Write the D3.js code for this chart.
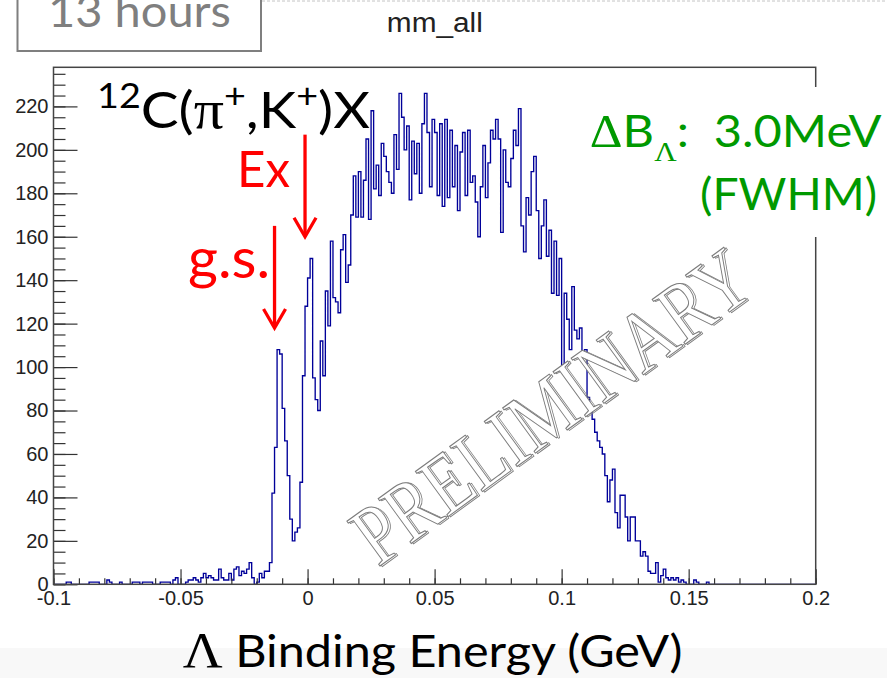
<!DOCTYPE html>
<html>
<head>
<meta charset="utf-8">
<script src="https://cdn.jsdelivr.net/npm/d3@7"></script>
<style>
  body { margin: 0; background: #fff; }
  svg { display: block; }
</style>
</head>
<body>
<svg id="chart" width="887" height="678"></svg>
<script>
// histogram: 300 bins of 1 MeV from -0.1 to 0.2 GeV
const xMin = -0.1
const binWidth = 0.001
const counts = [
  0, 0, 0, 0, 0, 1, 1, 0, 0, 0,
  0, 0, 0, 0, 1, 1, 1, 1, 0, 0,
  0, 2, 1, 0, 0, 0, 1, 0, 0, 0,
  0, 1, 1, 1, 0, 1, 1, 1, 1, 0,
  0, 0, 1, 1, 1, 1, 0, 2, 3, 0,
  0, 0, 1, 2, 2, 3, 2, 1, 3, 5,
  3, 4, 3, 2, 2, 7, 3, 2, 2, 5,
  2, 7, 8, 4, 6, 5, 7, 10, 3, 0,
  1, 5, 3, 6, 6, 10, 42, 63, 108, 106,
  81, 66, 50, 30, 20, 24, 26, 47, 96, 128,
  141, 150, 95, 85, 80, 112, 96, 135, 119, 158,
  132, 130, 125, 154, 161, 139, 147, 170, 188, 169,
  190, 169, 186, 205, 168, 218, 182, 193, 179, 203,
  197, 190, 185, 180, 207, 191, 226, 215, 200, 211,
  177, 204, 189, 203, 180, 212, 226, 208, 183, 214,
  208, 179, 212, 174, 214, 178, 209, 183, 202, 172,
  199, 208, 179, 209, 185, 188, 176, 160, 183, 202,
  178, 194, 209, 205, 214, 205, 162, 200, 185, 183,
  196, 209, 202, 219, 165, 153, 178, 170, 190, 197,
  172, 150, 165, 177, 151, 163, 134, 158, 133, 150,
  101, 134, 122, 108, 137, 117, 113, 118, 106, 108,
  86, 80, 76, 70, 66, 63, 60, 50, 38, 48,
  53, 33, 26, 41, 41, 31, 20, 31, 31, 20,
  20, 13, 15, 13, 6, 5, 5, 10, 1, 4,
  7, 3, 2, 3, 2, 3, 1, 2, 1, 0,
  0, 0, 2, 1, 0, 0, 0, 1, 0, 0,
  0, 0, 0, 0, 0, 0, 0, 0, 0, 0,
  0, 0, 0, 0, 0, 0, 0, 0, 0, 0,
  0, 0, 0, 0, 0, 0, 0, 0, 0, 0,
  0, 0, 0, 0, 0, 0, 0, 0, 0, 0
]

const xMajor = [-0.1, -0.05, 0, 0.05, 0.1, 0.15, 0.2]
const xLabels = ['-0.1', '-0.05', '0', '0.05', '0.1', '0.15', '0.2']
const yMajor = [0, 20, 40, 60, 80, 100, 120, 140, 160, 180, 200, 220]

// peak markers (x in GeV, arrow from/to in counts)
const arrows = [
  { label: 'Ex', x: -0.001, from: 207, to: 160 },
  { label: 'g.s.', x: -0.013, from: 165, to: 118 }
]

const sans = 'Lato, "Open Sans", sans-serif'
const serif = '"Liberation Serif", "DejaVu Serif", serif'
const arial = '"Liberation Sans", Arial, sans-serif'

const svg = d3.select('#chart')

const x = d3.scaleLinear().domain([-0.1, 0.2]).range([53.5, 815.7])
const y = d3.scaleLinear().domain([0, 238]).range([584.3, 67.3])

// squeeze/stretch a text group horizontally to a target width
const stretch = (g, width) => {
  const w = g.node().getBBox().width
  g.attr('transform', g.attr('transform') + ` scale(${width / w},1)`)
}

// background bits
svg.append('rect')
  .attr('x', 0).attr('y', 648).attr('width', 887).attr('height', 30)
  .attr('fill', '#f8f8f8')
svg.append('line')
  .attr('x1', 262).attr('x2', 887).attr('y1', 1).attr('y2', 1)
  .attr('stroke', '#c4c4c4').attr('stroke-dasharray', '3,2')

// histogram
const pts = counts.map((c, i) => [xMin + i * binWidth, c])
pts.push([xMin + counts.length * binWidth, counts[counts.length - 1]])

const line = d3.line()
  .x(d => x(d[0]))
  .y(d => y(d[1]))
  .curve(d3.curveStepAfter)

svg.append('path')
  .datum(pts)
  .attr('d', line)
  .attr('fill', 'none')
  .attr('stroke', '#000099')
  .attr('stroke-width', 1.35)

// axes, ticks pointing into the frame
const styleAxis = g => {
  g.select('.domain').remove()
  g.selectAll('.tick line').attr('stroke', '#333').attr('stroke-width', 1.2)
  g.selectAll('.tick text').attr('fill', '#222')
  g.attr('font-family', arial).attr('font-size', 20)
}

svg.append('g')
  .attr('transform', `translate(0,${y(0)})`)
  .call(d3.axisBottom(x).tickValues(d3.range(-0.1, 0.2001, 0.01)).tickSizeInner(-6).tickSizeOuter(0).tickFormat(''))
  .call(styleAxis)

svg.append('g')
  .attr('transform', `translate(0,${y(0)})`)
  .call(d3.axisBottom(x).tickValues(xMajor).tickSizeInner(-15).tickSizeOuter(0).tickPadding(7)
    .tickFormat((d, i) => xLabels[i]))
  .call(styleAxis)

svg.append('g')
  .attr('transform', `translate(${x(-0.1)},0)`)
  .call(d3.axisLeft(y).tickValues(d3.range(0, 236, 5)).tickSizeInner(-12).tickSizeOuter(0).tickFormat(''))
  .call(styleAxis)

svg.append('g')
  .attr('transform', `translate(${x(-0.1)},0)`)
  .call(d3.axisLeft(y).tickValues(yMajor).tickSizeInner(-24).tickSizeOuter(0).tickPadding(5))
  .call(styleAxis)

// frame
svg.append('rect')
  .attr('x', x(-0.1)).attr('y', y(238))
  .attr('width', x(0.2) - x(-0.1)).attr('height', y(0) - y(238))
  .attr('fill', 'none').attr('stroke', '#444').attr('stroke-width', 1.5)

// PRELIMINARY watermark, engraved look: offset outline + white-filled outline
{
  const g = svg.append('g').attr('transform', 'translate(551,406) rotate(-36)')
  const addText = (dx, dy, fill, sw) => {
    const t = g.append('g').attr('transform', `translate(${dx},${dy})`)
    t.append('text')
      .attr('text-anchor', 'middle')
      .attr('dy', 29)
      .attr('font-family', serif)
      .attr('font-size', 85)
      .attr('fill', fill)
      .attr('stroke', '#7c7c7c')
      .attr('stroke-width', sw)
      .text('PRELIMINARY')
    stretch(t, 470)
  }
  addText(1.6, 1.6, 'none', 0.9)
  addText(0, 0, '#fff', 1.1)
}

// title
{
  const g = svg.append('g').attr('transform', 'translate(434.8,32)')
  g.append('text')
    .attr('text-anchor', 'middle')
    .attr('font-family', arial).attr('font-size', 27).attr('fill', '#222')
    .text('mm_all')
  stretch(g, 96)
}

// "13 hours" box
svg.append('rect')
  .attr('x', 17.5).attr('y', -10).attr('width', 243.5).attr('height', 61)
  .attr('fill', 'none').attr('stroke', '#7f7f7f').attr('stroke-width', 2)
{
  const g = svg.append('g').attr('transform', 'translate(48,27)')
  g.append('text')
    .attr('font-family', sans).attr('font-size', 44).attr('fill', '#7f7f7f')
    .text('13 hours')
  stretch(g, 183)
}

// reaction label
{
  const g = svg.append('g').attr('transform', 'translate(97,127.7)')
  const t = g.append('text').attr('font-family', sans).attr('font-size', 51).attr('fill', '#000')
  t.append('tspan').attr('font-size', 34).attr('dy', -20).text('12')
  t.append('tspan').attr('dy', 20).text('C(')
  t.append('tspan').attr('font-family', serif).attr('font-size', 54).text('π')
  t.append('tspan').attr('font-size', 34).attr('dy', -20).text('+')
  t.append('tspan').attr('dy', 20).text(',K')
  t.append('tspan').attr('font-size', 34).attr('dy', -20).text('+')
  t.append('tspan').attr('dy', 20).text(')X')
  stretch(g, 273)
}

// peak arrows
arrows.forEach(a => {
  const ax = x(a.x)
  svg.append('line')
    .attr('x1', ax).attr('x2', ax).attr('y1', y(a.from)).attr('y2', y(a.to) - 1)
    .attr('stroke', '#ff0000').attr('stroke-width', 3.3)
  svg.append('polyline')
    .attr('points', [[ax - 11, y(a.to) - 19], [ax, y(a.to)], [ax + 11, y(a.to) - 19]].join(' '))
    .attr('fill', 'none').attr('stroke', '#ff0000').attr('stroke-width', 3.3)
})
{
  const g = svg.append('g').attr('transform', 'translate(237,186.7)')
  g.append('text').attr('font-family', sans).attr('font-size', 51).attr('fill', '#ff0000').text('Ex')
  stretch(g, 53)
}
{
  const g = svg.append('g').attr('transform', 'translate(188,278)')
  g.append('text').attr('font-family', sans).attr('font-size', 56).attr('fill', '#ff0000').text('g.s.')
  stretch(g, 82)
}

// resolution box
svg.append('rect')
  .attr('x', 585).attr('y', 87).attr('width', 302).attr('height', 150)
  .attr('fill', '#fff')
{
  const g = svg.append('g').attr('transform', 'translate(881.5,146.7)')
  const t = g.append('text')
    .attr('text-anchor', 'end').attr('font-family', sans).attr('font-size', 44)
    .attr('fill', '#009900').style('white-space', 'pre')
  t.append('tspan').attr('font-family', serif).attr('font-size', 46).text('Δ')
  t.append('tspan').text('B')
  t.append('tspan').attr('font-family', serif).attr('font-size', 28).attr('dy', 14).text('Λ')
  t.append('tspan').attr('dy', -14).text(':  3.0MeV')
  stretch(g, 292)
}
{
  const g = svg.append('g').attr('transform', 'translate(877,210)')
  g.append('text')
    .attr('text-anchor', 'end').attr('font-family', sans).attr('font-size', 44)
    .attr('fill', '#009900').text('(FWHM)')
  stretch(g, 177)
}

// x axis title
{
  const g = svg.append('g').attr('transform', 'translate(182.7,666.7)')
  const t = g.append('text').attr('font-family', sans).attr('font-size', 44).attr('fill', '#000')
    .style('white-space', 'pre')
  t.append('tspan').attr('font-family', serif).attr('font-size', 50).text('Λ')
  t.append('tspan').text(' Binding Energy (GeV)')
  stretch(g, 500)
}
</script>
</body>
</html>
